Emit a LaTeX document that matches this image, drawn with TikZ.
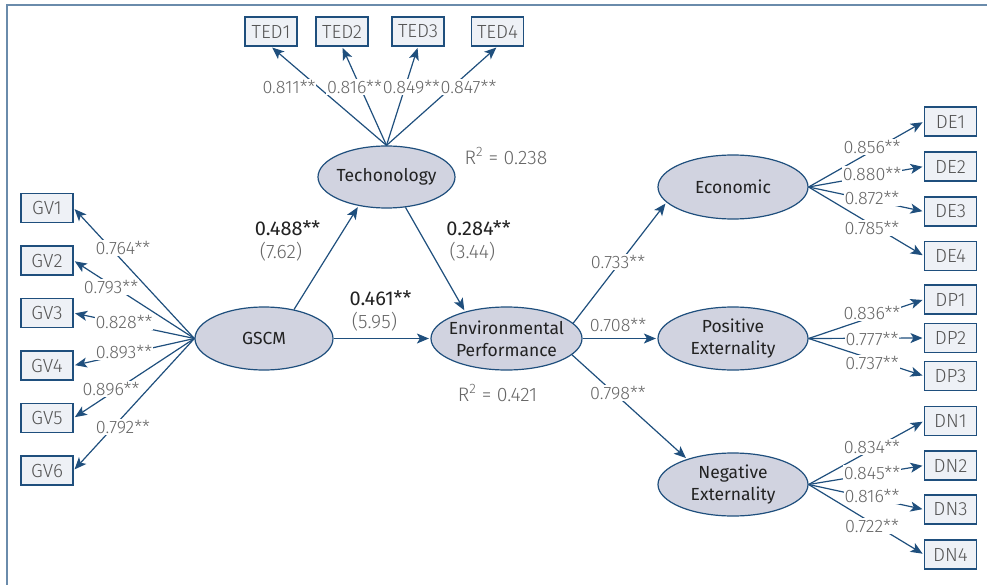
\documentclass[tikz,border=0pt]{standalone}
\usepackage{fontspec}
\setmainfont{Fira Sans}
\newfontfamily\lightfont{Fira Sans Light}
\usetikzlibrary{arrows.meta,shapes.geometric}
\definecolor{lineblue}{HTML}{1F4F7D}
\definecolor{framecol}{HTML}{6A8BAB}
\definecolor{ellfill}{HTML}{D1D3E0}
\definecolor{boxfill}{HTML}{EEF1F6}
\definecolor{labgray}{HTML}{666666}
\definecolor{boxtext}{HTML}{555555}
\definecolor{txtdark}{HTML}{222222}
\begin{document}
\begin{tikzpicture}[x=1pt,y=-1pt,
 ind/.style={draw=lineblue, fill=boxfill, line width=1.1pt, minimum width=52pt, minimum height=29pt, inner sep=0pt, font=\lightfont\fontsize{19}{20}\selectfont, text=boxtext},
 lat/.style={ellipse, draw=lineblue, fill=ellfill, line width=1.2pt, inner sep=0pt},
 lattext/.style={font=\fontsize{17.5}{22}\selectfont, text=txtdark, align=center, inner sep=0pt},
 arr/.style={draw=lineblue, line width=1.2pt, -{Stealth[length=12pt,width=10pt,inset=3pt]}, shorten >=1.5pt},
 lab/.style={fill=white, inner sep=1pt, font=\lightfont\fontsize{18}{19}\selectfont, text=labgray},
 coef/.style={inner sep=0pt, font=\fontsize{20}{22}\selectfont, text=txtdark},
 tval/.style={inner sep=0pt, font=\lightfont\fontsize{19.5}{22}\selectfont, text=labgray}]
\useasboundingbox (0,0) rectangle (987,585);
\draw[framecol, line width=2pt] (7,585) -- (7,5) -- (987,5);

% latent variables
\node[lat, minimum width=137pt, minimum height=62pt, label={[lattext]center:Techonology}] (tech) at (386.5,177) {};
\node[lat, minimum width=138pt, minimum height=63pt, label={[lattext]center:GSCM}] (gscm) at (264,338.5) {};
\node[lat, minimum width=151pt, minimum height=63pt, label={[lattext]center:Environmental\\Performance}] (ep) at (506.5,338.5) {};
\node[lat, minimum width=150pt, minimum height=64pt, label={[lattext]center:Economic}] (eco) at (733,187) {};
\node[lat, minimum width=150pt, minimum height=63pt, label={[lattext]center:Positive\\Externality}] (pos) at (733,338.5) {};
\node[lat, minimum width=150pt, minimum height=63pt, label={[lattext]center:Negative\\Externality}] (neg) at (733,484.5) {};

% indicators
\node[ind] (ted1) at (271,31.5) {TED1};
\node[ind] (ted2) at (342,31.5) {TED2};
\node[ind] (ted3) at (418,31.5) {TED3};
\node[ind] (ted4) at (497.5,31.5) {TED4};

\node[ind] (gv1) at (47,208) {GV1};
\node[ind] (gv2) at (47,260.5) {GV2};
\node[ind] (gv3) at (47,313) {GV3};
\node[ind] (gv4) at (47,365.5) {GV4};
\node[ind] (gv5) at (47,418) {GV5};
\node[ind] (gv6) at (47,470.5) {GV6};

\node[ind] (de1) at (950.5,121.5) {DE1};
\node[ind] (de2) at (950.5,166.5) {DE2};
\node[ind] (de3) at (950.5,211.5) {DE3};
\node[ind] (de4) at (950.5,256) {DE4};
\node[ind] (dp1) at (950.5,299.5) {DP1};
\node[ind] (dp2) at (950.5,338) {DP2};
\node[ind] (dp3) at (950.5,376) {DP3};
\node[ind] (dn1) at (950.5,421) {DN1};
\node[ind] (dn2) at (950.5,465.5) {DN2};
\node[ind] (dn3) at (950.5,509.5) {DN3};
\node[ind] (dn4) at (950.5,554.5) {DN4};

% loadings: technology
\foreach \i in {1,...,4} \draw[arr] (tech.north) -- (ted\i.south);
\node[lab] (lt1) at (289,87) {0.811**};
\node[lab] (lt2) at (354.5,87) {0.816**};
\node[lab] (lt3) at (411.5,87) {0.849**};
\node[lab] (lt4) at (468.5,87) {0.847**};

% loadings: GSCM
\foreach \i in {1,...,6} \draw[arr] (gscm.west) -- (gv\i.east);
\node[lab] (lg1) at (123,248) {0.764**};
\node[lab] (lg2) at (111,287) {0.793**};
\node[lab] (lg3) at (124,322) {0.828**};
\node[lab] (lg4) at (124,352) {0.893**};
\node[lab] (lg5) at (111,389) {0.896**};
\node[lab] (lg6) at (123,427) {0.792**};

% loadings: economic
\foreach \i in {1,...,4} \draw[arr] (eco.east) -- (de\i.west);
\node[lab] (le1) at (872,147) {0.856**};
\node[lab] (le2) at (872,174) {0.880**};
\node[lab] (le3) at (872,198) {0.872**};
\node[lab] (le4) at (872,228) {0.785**};

% loadings: positive
\foreach \i in {1,...,3} \draw[arr] (pos.east) -- (dp\i.west);
\node[lab] (lp1) at (872,313) {0.836**};
\node[lab] (lp2) at (872,339) {0.777**};
\node[lab] (lp3) at (872,363) {0.737**};

% loadings: negative
\foreach \i in {1,...,4} \draw[arr] (neg.east) -- (dn\i.west);
\node[lab] (ln1) at (872,447) {0.834**};
\node[lab] (ln2) at (872,473) {0.845**};
\node[lab] (ln3) at (872,496) {0.816**};
\node[lab] (ln4) at (872,526) {0.722**};

% structural paths
\draw[arr] (gscm.44) -- (tech.226);
\draw[arr] (tech.-58) -- (ep.147);
\draw[arr] (gscm.east) -- (ep.west);
\draw[arr] (ep.13) -- (eco.193);
\draw[arr] (ep.east) -- (pos.west);
\draw[arr] (ep.-14) -- (neg.151);

\node[coef] (c1) at (287.5,228) {0.488**};
\node[tval] (t1) at (281,252) {(7.62)};
\node[coef] (c2) at (478.5,228) {0.284**};
\node[tval] (t2) at (472.5,252) {(3.44)};
\node[coef] (c3) at (380.5,298) {0.461**};
\node[tval] (t3) at (374.5,322) {(5.95)};

\node[lab] (l1) at (618,262) {0.733**};
\node[lab] (l2) at (618,325) {0.708**};
\node[lab] (l3) at (618,393) {0.798**};

\node[tval] (r1) at (506,156) {R\textsuperscript{2} = 0.238};
\node[tval] (r2) at (497.5,393) {R\textsuperscript{2} = 0.421};
\end{tikzpicture}
\end{document}
